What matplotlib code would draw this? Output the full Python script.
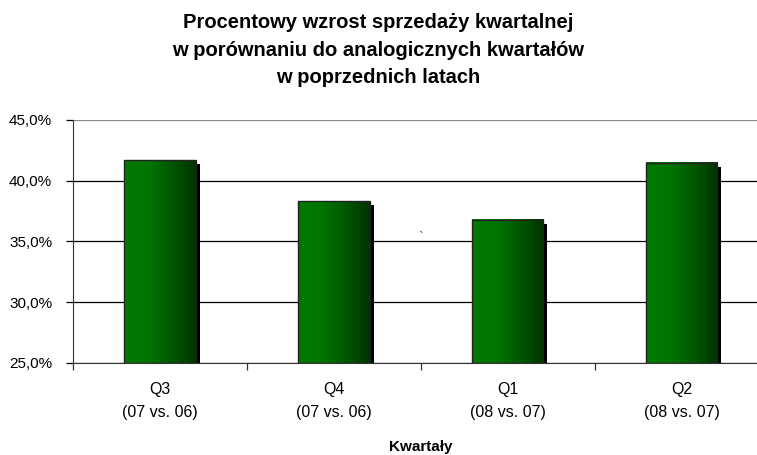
import numpy as np
import matplotlib.pyplot as plt
import matplotlib.transforms as mtransforms
from matplotlib.patches import Rectangle
from matplotlib.colors import LinearSegmentedColormap
from matplotlib.ticker import FuncFormatter

plt.rcParams['font.family'] = ['Liberation Sans', 'DejaVu Sans']

quarters = ['Q3\n(07 vs. 06)', 'Q4\n(07 vs. 06)', 'Q1\n(08 vs. 07)', 'Q2\n(08 vs. 07)']
growth = [41.7, 38.3, 36.8, 41.5]

title = ('Procentowy wzrost sprzedaży kwartalnej\n'
         'w porównaniu do analogicznych kwartałów\n'
         'w poprzednich latach')

fig = plt.figure(figsize=(7.57, 4.55), dpi=100)
ax = fig.add_axes([0.0964, 0.2022, 0.919, 0.5341])

ymin, ymax = 25, 45
ax.set_axisbelow(True)
ax.yaxis.grid(True, color='#000000', linewidth=0.9, zorder=0)

green = LinearSegmentedColormap.from_list(
    'bar', [(0.0, '#007a00'), (0.35, '#007400'), (0.7, '#005400'), (1.0, '#003300')])
grad = np.linspace(0, 1, 256).reshape(1, -1)
width = 0.41

shadow_tr = mtransforms.offset_copy(ax.transData, fig=fig, x=4, y=-4, units='dots')
for i, v in enumerate(growth):
    x0 = i - width / 2
    ax.add_patch(Rectangle((x0, ymin), width, v - ymin, facecolor='black',
                           edgecolor='none', transform=shadow_tr, zorder=2, clip_on=True))
    ax.imshow(grad, cmap=green, aspect='auto', extent=(x0, x0 + width, ymin, v),
              zorder=3, interpolation='bilinear')
    ax.add_patch(Rectangle((x0, ymin), width, v - ymin, facecolor='none',
                           edgecolor='#222222', linewidth=1.0, zorder=4))

ax.set_xlim(-0.5, len(growth) - 0.5)
ax.set_ylim(ymin, ymax)

ax.set_yticks(range(25, 50, 5))
ax.yaxis.set_major_formatter(FuncFormatter(lambda y, _: f'{y:.1f}%'.replace('.', ',')))
for gl, val in zip(ax.get_ygridlines(), range(25, 50, 5)):
    if val == 45:
        gl.set_color('#888888')
ax.set_xticks(range(len(growth)))
ax.set_xticklabels(quarters, fontsize=11.5, linespacing=1.6)
ax.set_xticks(np.arange(-0.5, len(growth)), minor=True)
ax.tick_params(axis='x', which='major', length=0, pad=14)
ax.tick_params(axis='x', which='minor', length=5, width=0.9, color='#333333')
ax.tick_params(axis='y', length=5, width=0.9, labelsize=11, pad=10)

for s in ['top', 'right']:
    ax.spines[s].set_visible(False)
ax.spines['left'].set_color('#333333')
ax.spines['bottom'].set_color('#333333')

ax.set_xlabel('Kwartały', fontsize=11, fontweight='bold', labelpad=15)
fig.text(0.5, 1 - 50 / 455, title, ha='center', va='center', fontsize=14.5,
         fontweight='bold', linespacing=1.55)
fig.text(0.555, 0.478, '`', fontsize=10, ha='center', va='center', color='#444444')

fig.savefig('out.png', dpi=100)
